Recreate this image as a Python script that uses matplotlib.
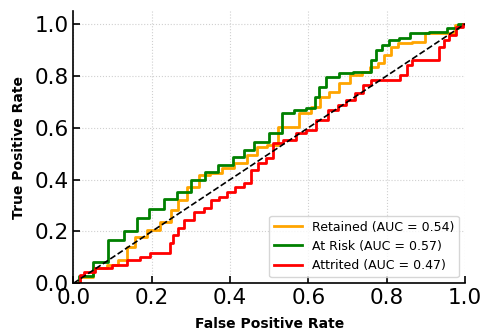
import matplotlib
matplotlib.use("Agg")
import matplotlib.pyplot as plt

# ROC curves (FPR, TPR vertices)
retained_fpr = [0.0, 0.034, 0.068, 0.102, 0.128, 0.145, 0.17, 0.204, 0.239, 0.26, 0.273, 0.307, 0.332,
                0.366, 0.392, 0.426, 0.46, 0.477, 0.511, 0.532, 0.562, 0.592, 0.622, 0.639, 0.664, 0.69,
                0.724, 0.749, 0.766, 0.788, 0.8, 0.822, 0.834, 0.894, 0.903, 0.962, 0.988, 1.0]
retained_tpr = [0.0, 0.025, 0.058, 0.07, 0.09, 0.141, 0.18, 0.205, 0.237, 0.282, 0.321, 0.372, 0.417,
                0.424, 0.443, 0.462, 0.494, 0.526, 0.533, 0.603, 0.603, 0.655, 0.681, 0.719, 0.738, 0.771,
                0.803, 0.815, 0.835, 0.848, 0.88, 0.912, 0.925, 0.931, 0.963, 0.963, 0.995, 1.0]

atrisk_fpr = [0.0, 0.03, 0.068, 0.11, 0.149, 0.175, 0.213, 0.247, 0.281, 0.319, 0.353, 0.387, 0.426,
              0.443, 0.477, 0.52, 0.545, 0.579, 0.609, 0.622, 0.634, 0.656, 0.698, 0.732, 0.754, 0.766,
              0.779, 0.796, 0.817, 0.843, 0.877, 0.937, 0.971, 0.992, 1.0]
atrisk_tpr = [0.0, 0.03, 0.083, 0.167, 0.2, 0.25, 0.285, 0.324, 0.353, 0.398, 0.43, 0.456, 0.488,
              0.514, 0.546, 0.578, 0.655, 0.668, 0.674, 0.719, 0.758, 0.796, 0.809, 0.815, 0.815, 0.86,
              0.899, 0.918, 0.938, 0.944, 0.963, 0.97, 0.983, 1.0, 1.0]

attrited_fpr = [0.0, 0.013, 0.021, 0.034, 0.077, 0.119, 0.153, 0.187, 0.204, 0.243, 0.251, 0.26, 0.273,
                0.294, 0.324, 0.345, 0.358, 0.383, 0.4, 0.426, 0.447, 0.46, 0.481, 0.502, 0.515, 0.554,
                0.583, 0.605, 0.634, 0.664, 0.686, 0.707, 0.732, 0.745, 0.775, 0.822, 0.843, 0.86, 0.868,
                0.932, 0.937, 0.954, 0.966, 0.988, 1.0]
attrited_tpr = [0.0, 0.0, 0.032, 0.045, 0.058, 0.07, 0.09, 0.103, 0.116, 0.116, 0.154, 0.186, 0.212,
                0.244, 0.276, 0.289, 0.321, 0.334, 0.353, 0.372, 0.385, 0.437, 0.462, 0.482, 0.54, 0.552,
                0.578, 0.591, 0.629, 0.668, 0.687, 0.706, 0.732, 0.764, 0.783, 0.783, 0.803, 0.841, 0.861,
                0.861, 0.912, 0.938, 0.957, 0.989, 1.0]

labels = ["Retained (AUC = 0.54)", "At Risk (AUC = 0.57)", "Attrited (AUC = 0.47)"]
colors = ["orange", "green", "red"]
ticks = [0.0, 0.2, 0.4, 0.6, 0.8, 1.0]

fig = plt.figure(figsize=(4.83, 3.31), dpi=100)
ax = fig.add_axes([0.152, 0.144, 0.811, 0.823])

for fpr, tpr, lab, c in zip([retained_fpr, atrisk_fpr, attrited_fpr],
                            [retained_tpr, atrisk_tpr, attrited_tpr], labels, colors):
    ax.plot(fpr, tpr, color=c, lw=2, label=lab, drawstyle="steps-mid")

ax.plot([0, 1], [0, 1], "k--", lw=1.2)

ax.set_xlim(0, 1.0)
ax.set_ylim(0, 1.05)
ax.set_xticks(ticks)
ax.set_yticks(ticks)
ax.tick_params(direction="in", labelsize=15.5, length=5, width=1.2)
for s in ["top", "right"]:
    ax.spines[s].set_visible(False)
for s in ["left", "bottom"]:
    ax.spines[s].set_linewidth(1.2)
ax.grid(True, linestyle=":", color="#d0d0d0", lw=0.8)
ax.set_xlabel("False Positive Rate", fontsize=10, fontweight="bold", labelpad=6)
ax.set_ylabel("True Positive Rate", fontsize=10, fontweight="bold", labelpad=6)
ax.legend(loc="lower right", fontsize=9, frameon=True, handlelength=2.2)

fig.savefig("out.png", dpi=100)
